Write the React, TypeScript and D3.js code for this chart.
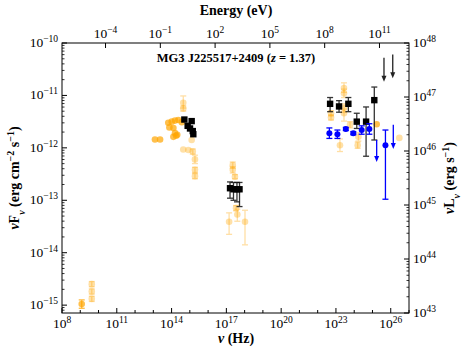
import React from 'react';
import * as d3 from 'd3';

// all values are log10: [log nu (Hz), log nuFnu (erg cm^-2 s^-1), err down (dex), err up (dex)]
const archivalBright: number[][] = [
  [9.08, -14.98, 0.08, 0.08],
  [13.09, -11.84, 0, 0], [13.37, -11.84, 0, 0],
  [13.82, -11.52, 0, 0], [14.01, -11.5, 0, 0], [14.19, -11.48, 0, 0], [14.37, -11.47, 0, 0], [14.56, -11.51, 0, 0],
  [13.88, -11.61, 0, 0], [14.1, -11.62, 0, 0],
  [14.19, -11.72, 0, 0], [14.31, -11.75, 0, 0], [14.1, -11.79, 0, 0], [14.25, -11.77, 0, 0],
  [25.23, -11.55, 0, 0],
];
const archivalFaint: number[][] = [
  [9.63, -14.6, 0.05, 0.05], [9.63, -14.74, 0.05, 0.05], [9.63, -14.88, 0.05, 0.05],
  [14.64, -11.14, 0.1, 0.13], [14.64, -11.25, 0.05, 0.05], [15.1, -11.85, 0, 0],
  [14.64, -12.03, 0, 0], [14.92, -12.04, 0, 0], [15.16, -12.07, 0.05, 0.05],
  [15.28, -12.22, 0.08, 0.08], [15.28, -12.42, 0.05, 0.05], [15.28, -12.54, 0.05, 0.05],
  [17.35, -12.33, 0.06, 0.06], [17.35, -12.42, 0.06, 0.06], [17.47, -12.55, 0.04, 0.04],
  [17.53, -13.15, 0.05, 0.05], [17.6, -13.27, 0.13, 0.1], [17.15, -13.41, 0.24, 0.17], [18.02, -13.41, 0.44, 0.22],
  [23.44, -10.86, 0.08, 0.1], [23.44, -10.96, 0.08, 0.08], [23.44, -11.24, 0.08, 0.08], [23.44, -11.34, 0.15, 0.08],
  [22.73, -11.34, 0.05, 0.05], [22.73, -11.42, 0.05, 0.05], [23.77, -11.56, 0.06, 0.06],
  [24.23, -11.79, 0.08, 0.08], [24.19, -11.95, 0.06, 0.06], [23.22, -11.95, 0.12, 0.12],
  [26.47, -11.81, 0, 0],
];
const opticalBlack: number[][] = [
  [14.7, -11.46, 0, 0], [15.1, -11.49, 0, 0], [14.88, -11.58, 0, 0],
  [15.01, -11.63, 0, 0], [15.16, -11.68, 0, 0], [15.19, -11.74, 0, 0],
];
const xrayBlack: number[][] = [
  [17.2, -12.77, 0.19, 0.12], [17.39, -12.79, 0.21, 0.13],
  [17.58, -12.79, 0.24, 0.13], [17.72, -12.79, 0.33, 0.13],
];
const gammaBlack: number[][] = [
  [22.68, -11.16, 0.15, 0.12], [23.17, -11.21, 0.11, 0.11], [23.68, -11.16, 0.15, 0.12],
  [24.14, -11.5, 0.13, 0.16], [24.65, -11.5, 0.66, 0.28], [25.1, -11.09, 0.76, 0.25],
];
const gammaBlue: number[][] = [
  [22.64, -11.72, 0.1, 0.1], [23.08, -11.74, 0.08, 0.08], [23.54, -11.64, 0.03, 0.03],
  [23.95, -11.72, 0.03, 0.03], [24.41, -11.66, 0.08, 0.08], [24.83, -11.64, 0.1, 0.1],
  [25.71, -11.95, 1.03, 0.29],
];
// upper limits: [log nu, top, arrow tip]
const blackLimits: number[][] = [[25.63, -10.28, -10.74], [26.11, -10.22, -10.67]];
const blueLimits: number[][] = [[25.23, -11.85, -12.27], [26.14, -11.56, -12.02]];

const fluxTicks = [-15, -14, -13, -12, -11, -10];
const lumTicks = [43, 44, 45, 46, 47, 48];
const nuTicks = [8, 11, 14, 17, 20, 23, 26];
const energyTicks = [-4, -1, 2, 5, 8, 11];

const W = 463, H = 352;
const L = 62, R = 409, T = 43, B = 313;
const FONT = "'Liberation Serif', 'DejaVu Serif', serif";
const H_EV = Math.log10(4.1357e-15);

const Pow = ({ e }: { e: number }) => (
  <>10<tspan baselineShift="super" fontSize={9.5}>{e < 0 ? '\u2212' + -e : e}</tspan></>
);

export default function App() {
  const x = d3.scaleLinear().domain([8, 27]).range([L, R]);
  const y = d3.scaleLinear().domain([-15.15, -10]).range([B, T]);
  const yL = d3.scaleLinear().domain([43, 48]).range([B, T]);
  const xE = d3.scaleLinear().domain([8 + H_EV, 27 + H_EV]).range([L, R]);

  const minor = (lo: number, hi: number) => {
    const out: number[] = [];
    for (let k = Math.floor(lo); k < hi; k++)
      for (let m = 2; m <= 9; m++) {
        const v = k + Math.log10(m);
        if (v > lo && v < hi) out.push(v);
      }
    return out;
  };

  const errBar = (d: number[], color: string, key: string, op = 1, cap = 3) => {
    if (!d[2] && !d[3]) return null;
    const cx = x(d[0]);
    const y1 = y(d[1] + d[3]), y2 = y(d[1] - d[2]);
    return (
      <g key={key} stroke={color} strokeWidth={1.3} opacity={op}>
        <line x1={cx} x2={cx} y1={y1} y2={y2} />
        <line x1={cx - cap} x2={cx + cap} y1={y1} y2={y1} />
        <line x1={cx - cap} x2={cx + cap} y1={y2} y2={y2} />
      </g>
    );
  };

  const arrow = (d: number[], color: string, key: string) => {
    const cx = x(d[0]), y1 = y(d[1]), y2 = y(d[2]);
    return (
      <g key={key}>
        <line x1={cx} x2={cx} y1={y1} y2={y2 - 5} stroke={color} strokeWidth={1.3} />
        <path d={`M${cx - 2.5},${y2 - 6} L${cx + 2.5},${y2 - 6} L${cx},${y2} Z`} fill={color} />
      </g>
    );
  };

  return (
    <svg width={W} height={H} style={{ position: 'absolute', left: 0, top: 0, fontFamily: FONT }}>
      <rect width={W} height={H} fill="#fff" />

      {/* archival data */}
      {archivalFaint.map((d, i) => errBar(d, '#FFA500', 'fe' + i, 0.35))}
      {archivalFaint.map((d, i) => (
        <circle key={'f' + i} cx={x(d[0])} cy={y(d[1])} r={3.3} fill="#FFA500" opacity={0.35} />
      ))}
      {archivalBright.map((d, i) => errBar(d, '#FFA500', 'be' + i, 0.75))}
      {archivalBright.map((d, i) => (
        <circle key={'b' + i} cx={x(d[0])} cy={y(d[1])} r={3.3} fill="#FFA500" opacity={0.7} />
      ))}

      {/* black squares */}
      {[...opticalBlack, ...xrayBlack, ...gammaBlack].map((d, i) => errBar(d, '#111', 'ke' + i, 0.85))}
      {[...opticalBlack, ...xrayBlack, ...gammaBlack].map((d, i) => (
        <rect key={'k' + i} x={x(d[0]) - 3.2} y={y(d[1]) - 3.2} width={6.4} height={6.4} fill="#000" />
      ))}

      {/* blue */}
      {gammaBlue.map((d, i) => errBar(d, '#0000FF', 'ue' + i, 1))}
      {gammaBlue.map((d, i) => (
        <circle key={'u' + i} cx={x(d[0])} cy={y(d[1])} r={3} fill="#0000FF" />
      ))}
      {blackLimits.map((d, i) => arrow(d, '#222', 'ka' + i))}
      {blueLimits.map((d, i) => arrow(d, '#0000FF', 'ua' + i))}

      {/* frame */}
      <rect x={L} y={T} width={R - L} height={B - T} fill="none" stroke="#000" strokeWidth={1} />

      {/* left axis */}
      {fluxTicks.map(t => (
        <g key={'lt' + t}>
          <line x1={L} x2={L + 5} y1={y(t)} y2={y(t)} stroke="#000" />
          <text x={L - 4} y={y(t) + 4} textAnchor="end" fontSize={13.5}><Pow e={t} /></text>
        </g>
      ))}
      {minor(-15.15, -10).map((t, i) => (
        <line key={'lm' + i} x1={L} x2={L + 2.5} y1={y(t)} y2={y(t)} stroke="#000" strokeWidth={0.8} />
      ))}

      {/* right axis */}
      {lumTicks.map(t => (
        <g key={'rt' + t}>
          <line x1={R - 5} x2={R} y1={yL(t)} y2={yL(t)} stroke="#000" />
          <text x={R + 4} y={yL(t) + 4} fontSize={13.5}><Pow e={t} /></text>
        </g>
      ))}
      {minor(43, 48).map((t, i) => (
        <line key={'rm' + i} x1={R - 2.5} x2={R} y1={yL(t)} y2={yL(t)} stroke="#000" strokeWidth={0.8} />
      ))}

      {/* bottom axis */}
      {d3.range(8, 28).map(t => (
        <line key={'bm' + t} x1={x(t)} x2={x(t)} y1={B} y2={B - (nuTicks.includes(t) ? 5 : 3)} stroke="#000" />
      ))}
      {nuTicks.map(t => (
        <text key={'bt' + t} x={x(t)} y={B + 15} textAnchor="middle" fontSize={13.5}><Pow e={t} /></text>
      ))}

      {/* top axis */}
      {energyTicks.map(t => (
        <g key={'tt' + t}>
          <line x1={xE(t)} x2={xE(t)} y1={T} y2={T + 5} stroke="#000" />
          <text x={xE(t)} y={T - 5} textAnchor="middle" fontSize={13.5}><Pow e={t} /></text>
        </g>
      ))}

      {/* labels */}
      <text x={236} y={15} textAnchor="middle" fontSize={14} fontWeight="bold">Energy (eV)</text>
      <text x={236} y={343} textAnchor="middle" fontSize={14} fontWeight="bold">
        <tspan fontStyle="italic">ν</tspan> (Hz)
      </text>
      <text x={236} y={62} textAnchor="middle" fontSize={12.5} fontWeight="bold">
        MG3 J225517+2409 (<tspan fontStyle="italic">z</tspan> = 1.37)
      </text>
      <text transform={`translate(19,${(T + B) / 2}) rotate(-90)`} textAnchor="middle" fontSize={14} fontWeight="bold">
        <tspan fontStyle="italic">ν</tspan>F<tspan baselineShift="sub" fontSize={10} fontStyle="italic">ν</tspan> (erg cm<tspan baselineShift="super" fontSize={10}>−2</tspan> s<tspan baselineShift="super" fontSize={10}>−1</tspan>)
      </text>
      <text transform={`translate(454,${(T + B) / 2}) rotate(-90)`} textAnchor="middle" fontSize={14} fontWeight="bold">
        <tspan fontStyle="italic">ν</tspan>L<tspan baselineShift="sub" fontSize={10} fontStyle="italic">ν</tspan> (erg s<tspan baselineShift="super" fontSize={10}>−1</tspan>)
      </text>
    </svg>
  );
}
